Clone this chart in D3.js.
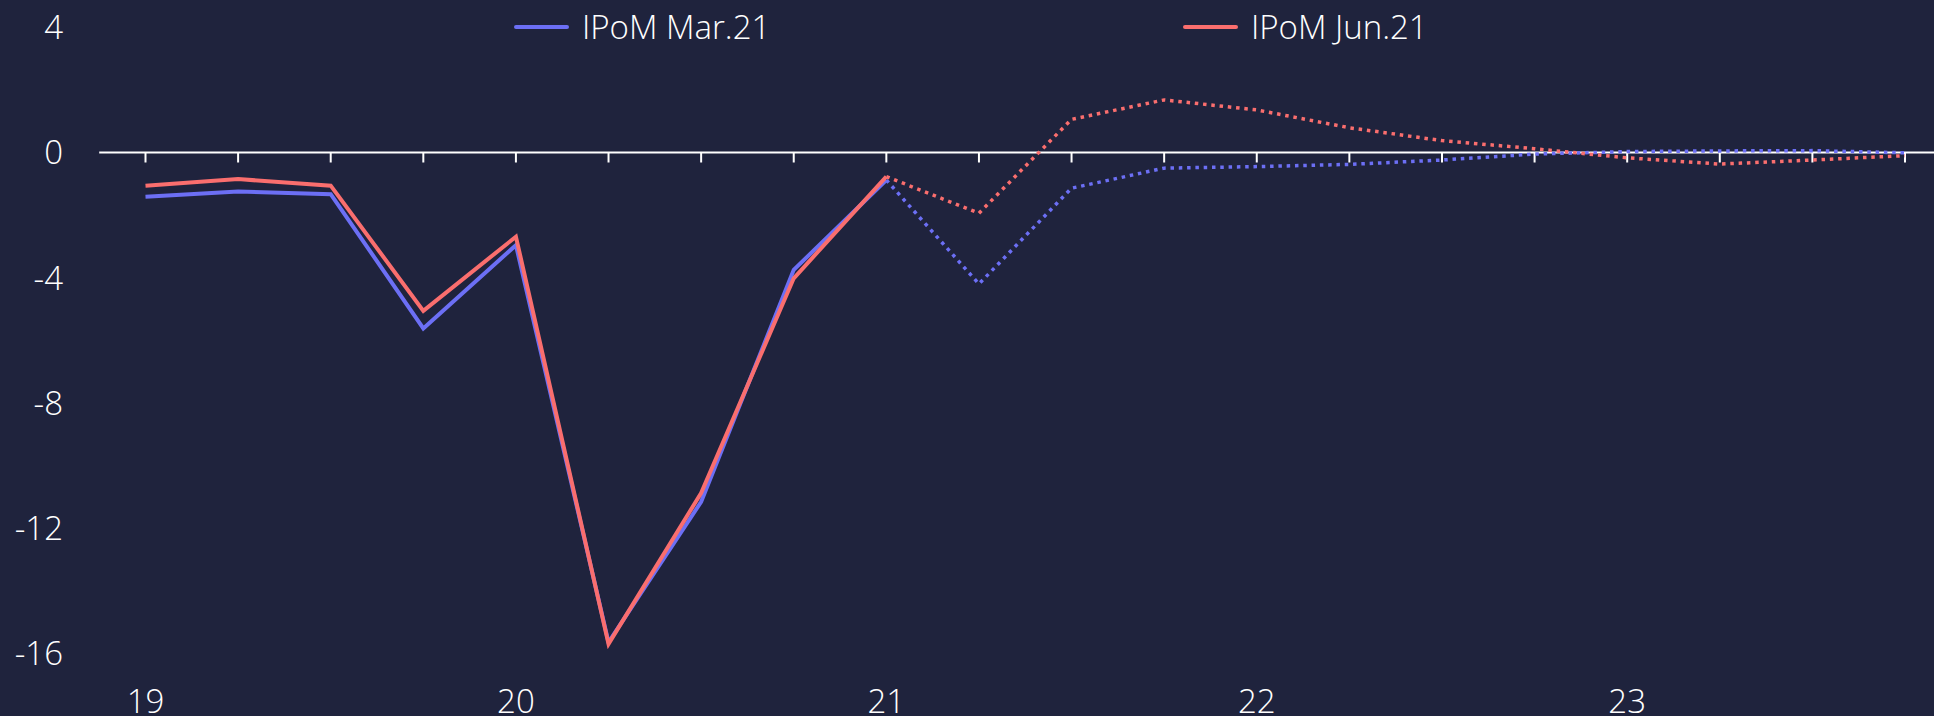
<!DOCTYPE html>
<html>
    <head>
        <title>IPoM</title>
        <script src="https://d3js.org/d3.v7.min.js"></script>
    </head>
    <body style="margin:0; background:#1f233d;">

        <style type="text/css">
            text {
                font-family: "Open Sans", sans-serif;
                font-weight: 300;
                font-size: 33px;
                fill: #ffffff;
            }
            .solid {
                fill: none;
                stroke-width: 4;
                stroke-linejoin: miter;
            }
            .dotted {
                fill: none;
                stroke-width: 3.5;
                stroke-dasharray: 3.5, 4.8;
            }
        </style>

        <script>
            var svgWidth = 1934, svgHeight = 716;

            var quarters = ["19Q1","19Q2","19Q3","19Q4","20Q1","20Q2","20Q3","20Q4",
                            "21Q1","21Q2","21Q3","21Q4","22Q1","22Q2","22Q3","22Q4",
                            "23Q1","23Q2","23Q3","23Q4"];
            var yearLabels = ["19","20","21","22","23"];
            var yTicks = [4, 0, -4, -8, -12, -16];

            // IPoM Mar.21
            var marValues = [-1.41, -1.25, -1.33, -5.62, -2.96, -15.65, -11.16, -3.75,
                             -0.88, -4.2, -1.14, -0.5, -0.45, -0.38, -0.24, -0.05,
                             0.03, 0.05, 0.06, -0.01];
            // IPoM Jun.21
            var junValues = [-1.06, -0.85, -1.06, -5.06, -2.69, -15.7, -10.88, -4.02,
                             -0.77, -1.94, 1.06, 1.68, 1.36, 0.79, 0.38, 0.12,
                             -0.17, -0.37, -0.24, -0.1];
            var forecastStart = 8; // 21Q1

            var series = [
                {name: "IPoM Mar.21", values: marValues, color: "#6c6ff5"},
                {name: "IPoM Jun.21", values: junValues, color: "#fa6e6e"}
            ];

            var xScale = d3.scalePoint()
                            .domain(quarters)
                            .range([145.5, 1905]);
            var step = xScale.step();

            var yScale = d3.scaleLinear()
                            .domain([-16, 4])
                            .range([653.3, 27.3]);

            var svg = d3.select("body").append("svg")
                            .attr("width", svgWidth)
                            .attr("height", svgHeight)
                            .style("display", "block");

            // y labels
            svg.selectAll(".ylab")
                .data(yTicks).enter().append("text")
                .attr("class", "ylab")
                .attr("x", 63)
                .attr("y", d => yScale(d))
                .attr("dy", "0.36em")
                .attr("text-anchor", "end")
                .text(d => d);

            // zero line with quarter ticks
            var y0 = yScale(0);
            svg.append("line")
                .attr("x1", xScale(quarters[0]) - step / 2)
                .attr("x2", xScale(quarters[quarters.length - 1]) + step / 2)
                .attr("y1", y0).attr("y2", y0)
                .attr("stroke", "#ffffff")
                .attr("stroke-width", 2);

            svg.selectAll(".qtick")
                .data(quarters).enter().append("line")
                .attr("class", "qtick")
                .attr("x1", d => xScale(d)).attr("x2", d => xScale(d))
                .attr("y1", y0).attr("y2", y0 + 10)
                .attr("stroke", "#ffffff")
                .attr("stroke-width", 2);

            // x labels at Q1 of each year
            svg.selectAll(".xlab")
                .data(yearLabels).enter().append("text")
                .attr("class", "xlab")
                .attr("x", d => xScale(d + "Q1"))
                .attr("y", 713)
                .attr("text-anchor", "middle")
                .text(d => d);

            var line = d3.line()
                            .x(d => xScale(d.q))
                            .y(d => yScale(d.v));

            series.forEach(function (s) {
                var pts = s.values.map((v, i) => ({q: quarters[i], v: v}));
                svg.append("path")
                    .datum(pts.slice(forecastStart))
                    .attr("class", "dotted")
                    .attr("stroke", s.color)
                    .attr("d", line);
                svg.append("path")
                    .datum(pts.slice(0, forecastStart + 1))
                    .attr("class", "solid")
                    .attr("stroke", s.color)
                    .attr("d", line);
            });

            // legend
            var legendX = [514, 1183];
            var legend = svg.selectAll(".legend")
                            .data(series).enter().append("g")
                            .attr("class", "legend")
                            .attr("transform", (d, i) => "translate(" + legendX[i] + ",27)");
            legend.append("line")
                .attr("x1", 2).attr("x2", 53)
                .attr("stroke", d => d.color)
                .attr("stroke-width", 4)
                .attr("stroke-linecap", "round");
            legend.append("text")
                .attr("x", 68)
                .attr("y", 12)
                .text(d => d.name);
        </script>
    </body>
</html>
